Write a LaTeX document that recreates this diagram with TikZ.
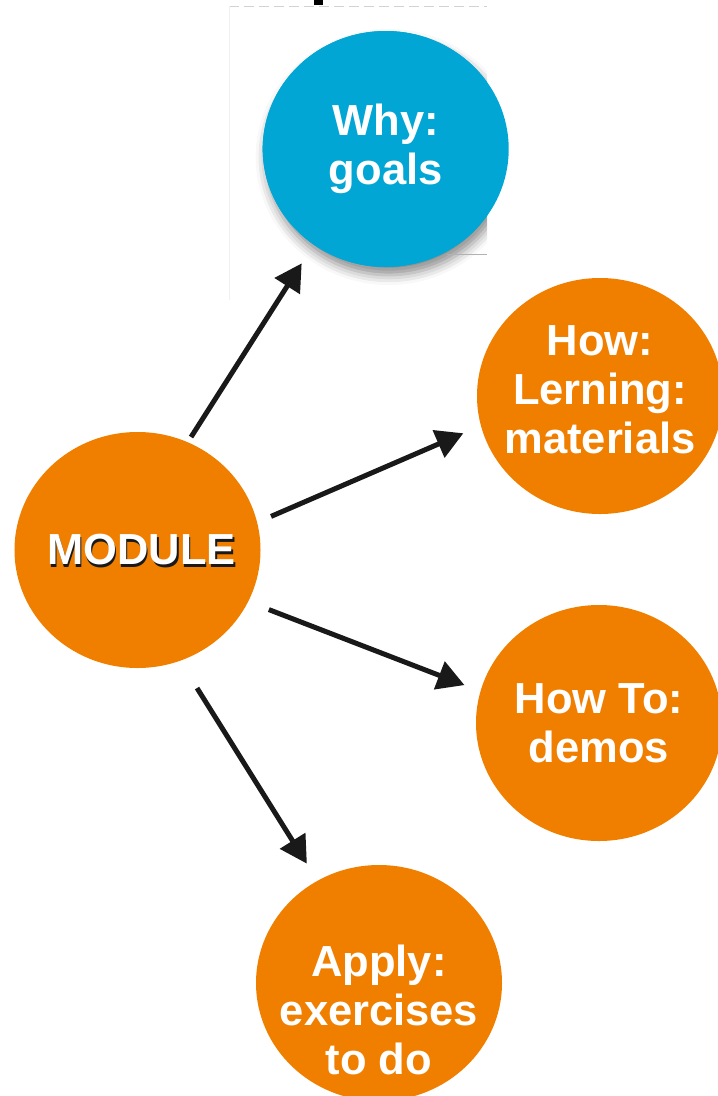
\documentclass[tikz,border=0pt]{standalone}
\usepackage{fontspec}
\setmainfont{Liberation Sans}
\usetikzlibrary{shapes.geometric,arrows.meta,shadows.blur}
\definecolor{modorange}{HTML}{F07F00}
\definecolor{goalblue}{HTML}{02A6D5}
\newcommand{\shadowed}[1]{\makebox[0pt][l]{\hspace{1.5bp}\raisebox{-2.5bp}[0pt][0pt]{\color{black!90}#1}}#1}

\begin{document}
\begin{tikzpicture}[x=1bp, y=-1bp,
  bubble/.style = {ellipse, fill=modorange, minimum width=246bp, minimum height=236bp, inner sep=0pt},
  bubbletext/.style = {text=white, align=center, inner sep=0pt, font=\fontsize{43.5bp}{49bp}\selectfont\bfseries},
  link/.style = {line width=5bp, draw=black!90, -{Triangle[length=27bp, width=29bp]}}]

\useasboundingbox (0,0) rectangle (718,1096);

\draw[gray!35, line width=1bp, dash pattern=on 10bp off 5bp] (229,6) -- (487,6);
\draw[gray!12, line width=0.8bp] (229,6) -- (229,300);
\fill[black] (314,0) rectangle (323,5);

\begin{scope}
\clip (0,0) rectangle (487,1096);
\node[bubble, fill=goalblue, blur shadow={shadow xshift=3bp, shadow yshift=-8bp, shadow blur radius=10bp, shadow opacity=45}] (why-shadow) at (385.7,149) {};
\end{scope}
\draw[gray!60, line width=1bp] (447,254) -- (487,254);

\node[bubble] (module) at (137.5,550) {};
\node[bubble, fill=goalblue] (why) at (385.7,149) {};
\node[bubble] (how) at (600,396) {};
\node[bubble] (howto) at (599,723) {};
\node[bubble] (apply) at (379,983) {};

\node[bubbletext] (module-text) at ([xshift=4bp]module.center) {\shadowed{MODULE}};
\node[bubbletext] (why-text) at (why.center) {Why:\\goals};
\node[bubbletext] (how-text) at ([yshift=6bp]how.center) {How:\\Lerning:\\materials};
\node[bubbletext] (howto-text) at (howto.center) {How To:\\demos};
\node[bubbletext] (apply-text) at ([yshift=-27bp]apply.center) {Apply:\\exercises\\to do};

\draw[link, shorten <=6bp, shorten >=22bp] (module.65) -- (why.-127);
\draw[link, shorten <=15bp, shorten >=19bp] (module.13) -- (how.194);
\draw[link, shorten <=22bp, shorten >=17bp] (module.-25) -- (howto.165);
\draw[link, shorten <=32bp, shorten >=20bp] (module.-69) -- (apply.121);

\end{tikzpicture}
\end{document}
